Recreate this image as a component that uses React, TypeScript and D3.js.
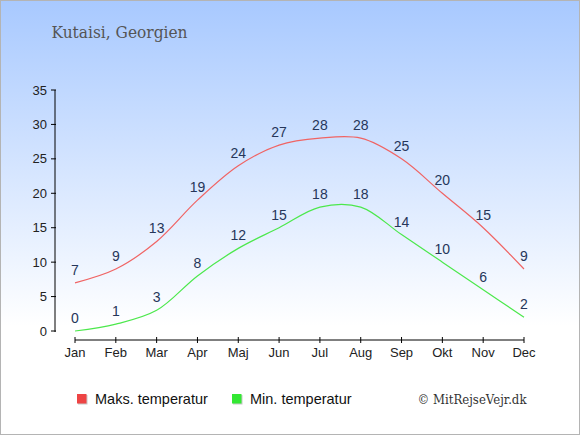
import React from "react";
import * as d3 from "d3";

const months = ["Jan", "Feb", "Mar", "Apr", "Maj", "Jun", "Jul", "Aug", "Sep", "Okt", "Nov", "Dec"];
const maxTemps = [7, 9, 13, 19, 24, 27, 28, 28, 25, 20, 15, 9];
const minTemps = [0, 1, 3, 8, 12, 15, 18, 18, 14, 10, 6, 2];
const yTicks = [0, 5, 10, 15, 20, 25, 30, 35];
const title = "Kutaisi, Georgien";
const seriesNames = ["Maks. temperatur", "Min. temperatur"];

const W = 580;
const H = 435;

export default function App() {
  const x = d3.scalePoint<string>().domain(months).range([75, 524]);
  const y = d3.scaleLinear().domain([0, 35]).range([331, 90]);
  const line = d3
    .line<number>()
    .x((_, i) => x(months[i]) as number)
    .y((d) => y(d))
    .curve(d3.curveCatmullRom.alpha(0.5));

  const sans = "'Liberation Sans', Arial, sans-serif";
  const serif = "'DejaVu Serif', serif";
  const labelColor = "#26365a";

  return (
    <div style={{ position: "fixed", left: 0, top: 0 }}>
      <svg width={W} height={H} style={{ display: "block" }}>
        <defs>
          <linearGradient id="bg" x1="0" y1="0" x2="0" y2="1">
            <stop offset="0" stopColor="#a8c9ff" />
            <stop offset="0.75" stopColor="#ffffff" />
            <stop offset="1" stopColor="#ffffff" />
          </linearGradient>
        </defs>
        <rect x={0.5} y={0.5} width={W - 1} height={H - 1} fill="url(#bg)" stroke="#b4b4b4" />
        <text x={51.5} y={38.3} fontFamily={serif} fontSize={16} fill="#555" textLength={136} lengthAdjust="spacingAndGlyphs">
          {title}
        </text>

        {/* y axis */}
        <line x1={55} x2={55} y1={y(35)} y2={y(0) + 1} stroke="#000" />
        {yTicks.map((t) => (
          <g key={t}>
            <line x1={51} x2={56} y1={y(t)} y2={y(t)} stroke="#000" />
            <text x={47} y={y(t) + 4.5} textAnchor="end" fontFamily={sans} fontSize={13} fill="#222">
              {t}
            </text>
          </g>
        ))}

        {/* x axis */}
        <line x1={x("Jan")} x2={x("Dec")} y1={340} y2={340} stroke="#000" />
        {months.map((m) => (
          <g key={m}>
            <line x1={x(m)} x2={x(m)} y1={337} y2={343} stroke="#000" />
            <text x={x(m)} y={357} textAnchor="middle" fontFamily={sans} fontSize={13} fill="#222">
              {m}
            </text>
          </g>
        ))}

        <path d={line(maxTemps) || ""} fill="none" stroke="#f06464" strokeWidth={1.2} />
        <path d={line(minTemps) || ""} fill="none" stroke="#4ce84c" strokeWidth={1.2} />

        {maxTemps.map((v, i) => (
          <text key={"a" + i} x={x(months[i])} y={y(v) - 8} textAnchor="middle" fontFamily={sans} fontSize={14} fill={labelColor}>
            {v}
          </text>
        ))}
        {minTemps.map((v, i) => (
          <text key={"b" + i} x={x(months[i])} y={y(v) - 8} textAnchor="middle" fontFamily={sans} fontSize={14} fill={labelColor}>
            {v}
          </text>
        ))}

        {/* legend */}
        <rect x={78} y={395} width={9.5} height={9.5} fill="#c8c8c8" />
        <rect x={77} y={394} width={9.5} height={9.5} fill="#ee4444" />
        <text x={95} y={404} fontFamily={sans} fontSize={14.5} fill="#111">
          {seriesNames[0]}
        </text>
        <rect x={233} y={395} width={9.5} height={9.5} fill="#c8c8c8" />
        <rect x={232} y={394} width={9.5} height={9.5} fill="#33e833" />
        <text x={250} y={404} fontFamily={sans} fontSize={14.5} fill="#111">
          {seriesNames[1]}
        </text>
        <text x={417.5} y={403.5} fontFamily={serif} fontSize={13.5} fill="#333" textLength={109} lengthAdjust="spacingAndGlyphs">
          © MitRejseVejr.dk
        </text>
      </svg>
    </div>
  );
}
